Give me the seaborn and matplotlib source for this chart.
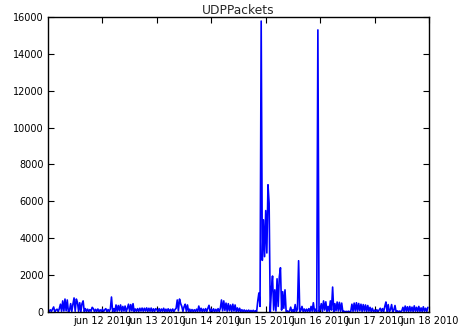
import matplotlib
matplotlib.use("Agg")
import matplotlib.pyplot as plt
import matplotlib.dates as mdates
from matplotlib.ticker import FuncFormatter, FixedLocator
import seaborn as sns
import pandas as pd

# UDP packet counts, one sample every 30 minutes, one list per day
jun11 = [100, 20, 120, 30, 150, 270, 10, 100, 150, 20, 180, 420,
         40, 600, 50, 700, 60, 650, 0, 80, 450, 30, 420, 760,
         40, 700, 520, 30, 500, 10, 450, 600, 20, 180, 30, 150,
         20, 130, 40, 250, 180, 20, 140, 30, 160, 20, 120, 30]
jun12 = [150, 20, 120, 180, 20, 130, 30, 160, 810, 20, 180, 30,
         380, 40, 350, 60, 380, 30, 300, 50, 320, 20, 200, 420,
         40, 400, 60, 450, 20, 160, 40, 180, 30, 200, 50, 210,
         40, 200, 50, 220, 30, 200, 40, 210, 20, 170, 30, 180]
jun13 = [120, 30, 180, 20, 160, 40, 200, 20, 150, 30, 170, 20,
         140, 30, 160, 20, 130, 200, 650, 60, 700, 450, 300, 30,
         280, 420, 40, 380, 20, 150, 20, 130, 20, 120, 30, 150,
         20, 320, 30, 200, 20, 160, 30, 180, 20, 200, 360, 30]
jun14 = [150, 20, 170, 20, 140, 30, 180, 20, 200, 650, 60, 600,
         80, 480, 40, 450, 60, 380, 30, 420, 50, 380, 20, 220,
         20, 200, 10, 120, 20, 110, 10, 90, 20, 100, 10, 80,
         20, 90, 10, 70, 10, 600, 1030, 300, 15780, 2800, 5000, 3000]
jun15 = [5500, 3200, 6900, 5900, 0, 1200, 1950, 100, 1200, 50, 1800, 300,
         1900, 2400, 100, 1100, 200, 1200, 30, 60, 10, 50, 260, 10,
         120, 20, 400, 20, 150, 2780, 20, 90, 300, 20, 160, 20,
         150, 30, 180, 20, 300, 40, 500, 30, 150, 20, 15300, 30]
jun16 = [150, 450, 30, 600, 100, 550, 20, 300, 40, 600, 100, 1350,
         20, 450, 60, 540, 50, 520, 40, 480, 10, 40, 10, 30,
         10, 40, 10, 30, 420, 30, 480, 50, 500, 40, 460, 60,
         420, 30, 400, 50, 380, 20, 350, 40, 250, 20, 200, 20]
jun17 = [100, 20, 120, 10, 100, 200, 20, 180, 10, 300, 540, 10,
         400, 10, 120, 400, 10, 100, 350, 10, 60, 10, 50, 10,
         60, 250, 30, 320, 40, 280, 20, 300, 40, 260, 20, 330,
         40, 250, 20, 300, 30, 220, 20, 280, 40, 200, 20, 250]

packets = jun11 + jun12 + jun13 + jun14 + jun15 + jun16 + jun17
timestamps = pd.date_range("2010-06-11 00:00", periods=len(packets), freq="30min")
day_ticks = pd.date_range("2010-06-12", "2010-06-18", freq="D")
y_ticks = [0, 2000, 4000, 6000, 8000, 10000, 12000, 14000, 16000]

df = pd.DataFrame({"time": timestamps, "packets": packets})

sns.set_style("ticks")
plt.rcParams["font.family"] = ["DejaVu Sans"]

fig = plt.figure(figsize=(4.64, 3.34), dpi=100)
ax = fig.add_axes([0.1034, 0.066, 0.8212, 0.883])

sns.lineplot(data=df, x="time", y="packets", ax=ax, color="#0000ff",
             linewidth=1.2, estimator=None)

ax.set_xlim(pd.Timestamp("2010-06-11"), pd.Timestamp("2010-06-18"))
ax.set_ylim(0, 16000)
ax.xaxis.set_major_locator(FixedLocator(mdates.date2num(day_ticks)))
ax.xaxis.set_major_formatter(
    FuncFormatter(lambda v, pos: mdates.num2date(v).strftime("%b %d %Y").lower()))
ax.yaxis.set_major_locator(FixedLocator(y_ticks))
ax.yaxis.set_major_formatter(FuncFormatter(lambda v, pos: f"{int(v)}"))

ax.set_xlabel("")
ax.set_ylabel("")
ax.set_title("UDPPackets", fontsize=8.8, pad=2)

for side in ["top", "right", "bottom", "left"]:
    ax.spines[side].set_visible(True)
    ax.spines[side].set_color("black")
    ax.spines[side].set_linewidth(1.0)

ax.tick_params(axis="both", which="major", direction="in", length=4, width=0.8,
               top=True, right=True, labelsize=7.0, colors="black", pad=3)

fig.savefig("out.png", dpi=100, facecolor="white")
